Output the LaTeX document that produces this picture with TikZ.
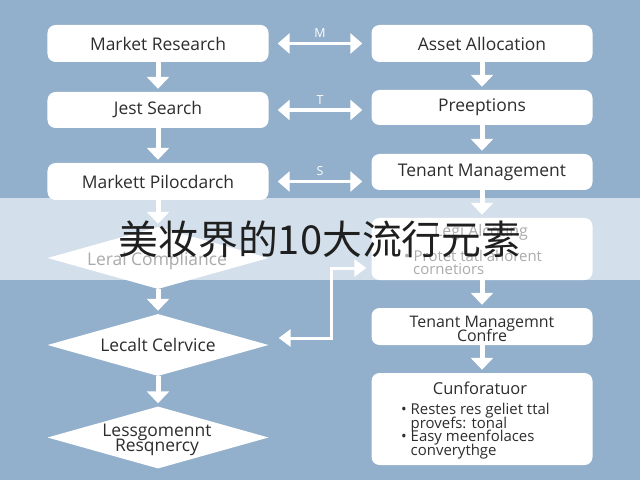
\documentclass[tikz,border=0pt]{standalone}
\usepackage{fontspec}
\setmainfont{Open Sans}
\newfontfamily\cjk{Noto Sans CJK SC}
\usetikzlibrary{arrows.meta,shapes.geometric,calc}
\definecolor{bg}{RGB}{146,175,203}
\definecolor{txt}{RGB}{45,45,45}
\newcommand\tightlines{\lineskiplimit=-8pt\relax}
\begin{document}
\begin{tikzpicture}[x=1bp,y=-1bp,
  box/.style={fill=white,rounded corners=8bp,minimum width=221bp,inner sep=0pt,text=txt,align=center,font=\fontsize{17.5}{17.5}\selectfont},
  dia/.style={diamond,fill=white,aspect=3.56,minimum width=221bp,minimum height=62bp,inner sep=0pt,text=txt,align=center,font=\fontsize{17.5}{15.5}\selectfont},
  plain/.style={inner sep=0pt,text=txt},
  down/.style={white,line width=5bp,-{Triangle[width=22bp,length=12bp]},shorten >=3bp},
  both/.style={white,line width=3.5bp,{Triangle[width=20bp,length=12bp]}-{Triangle[width=20bp,length=12bp]},shorten >=9bp,shorten <=9bp},
  elbow/.style={white,line width=3bp,{Triangle[width=17bp,length=12bp]}-{Triangle[width=17bp,length=12bp]}},
  lbl/.style={text=white,inner sep=0pt,font=\fontsize{12.5}{12.5}\selectfont}
]
\useasboundingbox (0,0) rectangle (640,480);
\fill[bg] (0,0) rectangle (640,480);

% left column
\node[box,minimum height=37bp] (b1) at (158,43.5) {Market Research};
\node[box,minimum height=36bp] (b2) at (158,110) {Jest Search};
\node[box,minimum height=37bp] (b3) at (158,181.5) {Markett Pilocdarch};
\node[dia] (d1) at (158,258) {};
\node[dia] (d2) at (158,345) {Lecalt Celrvice};
\node[dia] (d3) at (158,437.5) {};

% right column
\node[box,minimum height=37bp] (a1) at (482,43.5) {Asset Allocation};
\node[box,minimum height=35bp] (a2) at (482,107.5) {Preeptions};
\node[box,minimum height=36bp] (a3) at (482,172) {Tenant Management};
\node[box,minimum height=62bp] (legi) at (482,249) {};
\node[box,minimum height=37bp] (tmc) at (482,326.5) {};
\node[box,minimum height=92bp] (conf) at (482,419) {};

% texts placed inside shapes
\node[plain,font=\fontsize{17.5}{17.5}\selectfont] (d1t) at (157,261) {Leral Compliance};
\node[plain,align=center,font=\fontsize{17.5}{15}\selectfont\tightlines] (d3t) at (157,439.5) {Lessgomennt\\Resqnercy};
\node[plain,align=center,font=\fontsize{16}{14.5}\selectfont\tightlines] (tmct) at (482,329) {Tenant Managemnt\\Confre};
\node[plain,font=\fontsize{16}{16}\selectfont] (legit) at (481,232) {Legi Alcoting};
\node[plain,anchor=west,font=\fontsize{15}{15}\selectfont] (legib) at (404,256) {\textbullet\ Protet tatl ahorent};
\node[plain,anchor=west,font=\fontsize{15}{15}\selectfont] (legic) at (413,269.5) {cornetiors};
\node[plain,font=\fontsize{16.5}{16.5}\selectfont] (conft) at (480,388) {Cunforatuor};
\node[plain,anchor=north west,align=left,font=\fontsize{15}{13.7}\selectfont\tightlines] (confl) at (401,403)
  {\textbullet\ Restes res geliet ttal\\\phantom{\textbullet\ }provefs: tonal\\\textbullet\ Easy meenfolaces\\\phantom{\textbullet\ }converythge};

% vertical arrows
\draw[down] (b1) -- (b2);
\draw[down] (b2) -- (b3);
\draw[down] (b3) -- (d1);
\draw[down] (d1) -- (d2);
\draw[down] (d2) -- (d3);
\draw[down] (a1) -- (a2);
\draw[down] (a2) -- (a3);
\draw[down] (a3) -- (legi);
\draw[down] (legi) -- (tmc);
\draw[down] (tmc) -- (conf);

% horizontal double arrows
\draw[both] (b1.east) -- (b1.east -| a1.west) node[lbl,midway,above=4bp] {M};
\draw[both] (b2.east) -- (b2.east -| a2.west) node[lbl,midway,above=4bp] {T};
\draw[both] (b3.east) -- (b3.east -| a3.west) node[lbl,midway,above=4bp] {S};

% elbow connector
\coordinate (ea) at ($(d2.east)+(10,-7)$);
\coordinate (eb) at ($(legi.west)+(-5,19)$);
\coordinate (ev) at (331,300);
\draw[elbow] (ea) -- (ea -| ev) -- (ev |- eb) -- (eb);

% title band
\fill[white,opacity=0.6] (0,198) rectangle (640,280);
\node[inner sep=0pt,anchor=base,text=black!88,font=\cjk\fontsize{40}{40}\selectfont] (title) at (320,255) {美妆界的10大流行元素};
\end{tikzpicture}
\end{document}
